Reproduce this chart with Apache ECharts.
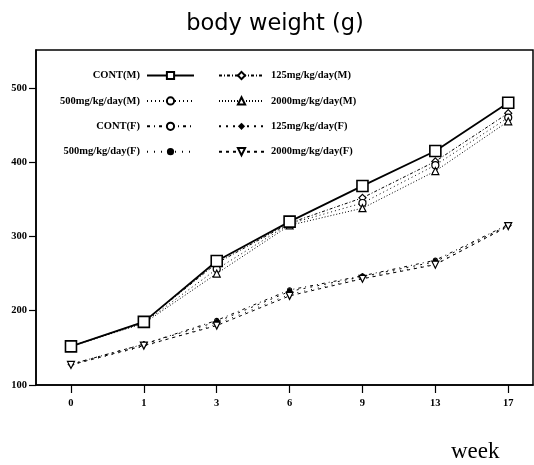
<!DOCTYPE html>
<html>
<head>
<meta charset="utf-8">
<script src="https://cdn.jsdelivr.net/npm/echarts@6/dist/echarts.min.js"></script>
<style>html,body{margin:0;padding:0;background:#fff}#c{width:534px;height:465px}</style>
</head>
<body>
<div id="c"></div>
<script>
const weeks = ['0', '1', '3', '6', '9', '13', '17'];
const yTicks = [100, 200, 300, 400, 500];
const contM = [152, 185, 267, 320, 368, 415, 480];
const m125 = [152, 185, 264, 318, 352, 401, 466];
const m500 = [152, 184, 256, 317, 345, 396, 460];
const m2000 = [152, 183, 250, 315, 338, 388, 455];
const contF = [128, 155, 187, 228, 247, 268, 316];
const f125 = [128, 155, 185, 226, 246, 266, 315];
const f500 = [127, 152, 182, 222, 244, 263, 313];
const f2000 = [127, 153, 180, 220, 243, 262, 314];

const pts = arr => arr.map((v, i) => [i, v]);
const mk = (name, data, o) => Object.assign({
  name, type: 'line', data: pts(data), z: 3,
  lineStyle: { color: '#000', width: 1 },
  itemStyle: { color: '#fff', borderColor: '#000', borderWidth: 1.2 },
  symbolSize: 6
}, o);

const chart = echarts.init(document.getElementById('c'));
const legendText = { fontFamily: 'Liberation Serif', fontWeight: 'bold', fontSize: 10.5, color: '#000' };
chart.setOption({
  animation: false,
  backgroundColor: '#fff',
  title: {
    text: 'body weight (g)', left: 270, top: 8, textAlign: 'center',
    textStyle: { fontFamily: 'DejaVu Sans', fontWeight: 'normal', fontSize: 22.5, color: '#000' }
  },
  graphic: [{
    type: 'text', left: 451, top: 440,
    style: { text: 'week', fontFamily: 'Liberation Serif', fontSize: 23, fill: '#000' }
  }],
  legend: [{
    data: ['CONT(M)', '500mg/kg/day(M)', 'CONT(F)', '500mg/kg/day(F)'],
    orient: 'vertical', align: 'right', right: 334, top: 65,
    itemWidth: 47, itemHeight: 9, itemGap: 14.4,
    textStyle: Object.assign({ padding: [0, 2, 0, 0] }, legendText)
  }, {
    data: ['125mg/kg/day(M)', '2000mg/kg/day(M)', '125mg/kg/day(F)', '2000mg/kg/day(F)'],
    orient: 'vertical', align: 'left', left: 213, top: 65,
    itemWidth: 45, itemHeight: 9, itemGap: 14.4,
    textStyle: Object.assign({ padding: [0, 0, 0, 2] }, legendText)
  }],
  grid: {
    left: 36, right: 1, top: 50, bottom: 80,
    show: true, borderColor: '#000', borderWidth: 1.5
  },
  xAxis: {
    type: 'value', min: -0.48, max: 6.34,
    splitLine: { show: false },
    axisLine: { show: true, onZero: false, lineStyle: { color: '#000', width: 1.5 } },
    axisTick: { show: true, length: 8, customValues: [0, 1, 2, 3, 4, 5, 6], lineStyle: { color: '#000', width: 1.2 } },
    axisLabel: {
      customValues: [0, 1, 2, 3, 4, 5, 6], margin: 13,
      formatter: v => weeks[Math.round(v)],
      fontFamily: 'Liberation Serif', fontWeight: 'bold', fontSize: 10.5, color: '#000'
    }
  },
  yAxis: {
    type: 'value', min: 100, max: 551,
    splitLine: { show: false },
    axisLine: { show: true, onZero: false, lineStyle: { color: '#000', width: 1.5 } },
    axisTick: { show: true, length: 7, customValues: yTicks, lineStyle: { color: '#000', width: 1.2 } },
    axisLabel: {
      customValues: yTicks, margin: 9,
      fontFamily: 'Liberation Serif', fontWeight: 'bold', fontSize: 10.5, color: '#000'
    }
  },
  series: [
    mk('CONT(M)', contM, { symbol: 'rect', symbolSize: 11, z: 5, lineStyle: { color: '#000', width: 1.8 }, itemStyle: { color: '#fff', borderColor: '#000', borderWidth: 1.6 } }),
    mk('125mg/kg/day(M)', m125, { symbol: 'diamond', symbolSize: 7, lineStyle: { color: '#000', width: 1, type: [3, 2, 1, 2] } }),
    mk('500mg/kg/day(M)', m500, { symbol: 'circle', symbolSize: 7, lineStyle: { color: '#000', width: 1, type: [1, 3] } }),
    mk('2000mg/kg/day(M)', m2000, { symbol: 'triangle', symbolSize: 7, lineStyle: { color: '#000', width: 1, type: [1, 2] } }),
    mk('CONT(F)', contF, { symbol: 'circle', symbolSize: 4, lineStyle: { color: '#000', width: 1, type: [3, 4, 1, 4] } }),
    mk('125mg/kg/day(F)', f125, { symbol: 'diamond', symbolSize: 6, itemStyle: { color: '#000', borderColor: '#000' }, lineStyle: { color: '#000', width: 1, type: [2, 5] } }),
    mk('500mg/kg/day(F)', f500, { symbol: 'circle', symbolSize: 1.5, itemStyle: { color: '#000', borderColor: '#000', borderWidth: 0 }, lineStyle: { color: '#000', width: 1, type: [1, 6] } }),
    mk('2000mg/kg/day(F)', f2000, { symbol: 'triangle', symbolRotate: 180, symbolSize: 7, lineStyle: { color: '#000', width: 1, type: [3, 4] } })
  ]
});
</script>
</body>
</html>
